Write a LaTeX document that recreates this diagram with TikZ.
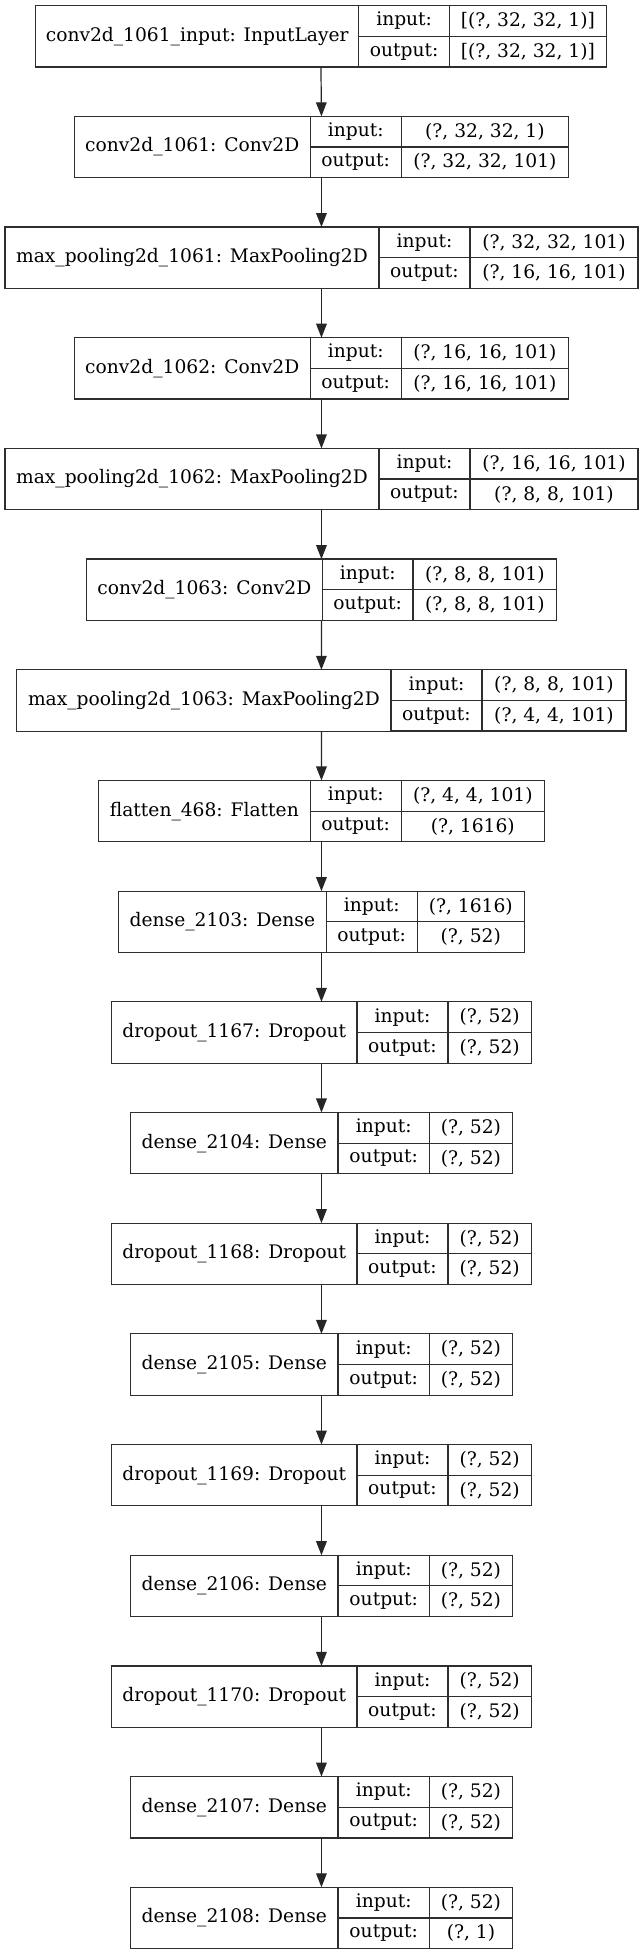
\documentclass[tikz,border=0pt]{standalone}
\usepackage{fontspec}
\setmainfont{DejaVu Serif}
\usetikzlibrary{arrows.meta}
\newcommand\nnlayer[9]{%
  \pgfmathsetmacro\ymid{#9+30.65}%
  \pgfmathsetmacro\yin{#9+15.325}%
  \pgfmathsetmacro\yout{#9+45.975}%
  \node[box, minimum width={(#8-#5)*0.75pt}, minimum height=46pt] (#1) at ({(#5+#8)/2},\ymid) {};
  \node[cell, minimum width={(#6-#5)*0.75pt}, minimum height=46pt] (#1-n) at ({(#5+#6)/2},\ymid) {#2};
  \node[cell, minimum width={(#7-#6)*0.75pt}, minimum height=23pt] (#1-il) at ({(#6+#7)/2},\yin) {input:};
  \node[cell, minimum width={(#8-#7)*0.75pt}, minimum height=23pt] (#1-iv) at ({(#7+#8)/2},\yin) {#3};
  \node[cell, minimum width={(#7-#6)*0.75pt}, minimum height=23pt] (#1-ol) at ({(#6+#7)/2},\yout) {output:};
  \node[cell, minimum width={(#8-#7)*0.75pt}, minimum height=23pt] (#1-ov) at ({(#7+#8)/2},\yout) {#4};
}
\begin{document}
\begin{tikzpicture}[x=0.75pt,y=-0.75pt,
  box/.style={draw=black!82, line width=0.9pt, inner sep=0pt, outer sep=0pt, rectangle},
  cell/.style={box, font=\fontsize{14}{16}\selectfont},
  arr/.style={draw=black!85, line width=0.9pt, -{Triangle[length=10.5pt,width=8pt]}}]
\useasboundingbox (0,0) rectangle (640,1955);
\nnlayer{L0}{conv2d\_1061\_input: InputLayer}{[(?, 32, 32, 1)]}{[(?, 32, 32, 1)]}{35.7}{358.8}{449.5}{606.2}{5.7}
\nnlayer{L1}{conv2d\_1061: Conv2D}{(?, 32, 32, 1)}{(?, 32, 32, 101)}{74.3}{310.2}{401.2}{568.6}{116.38}
\nnlayer{L2}{max\_pooling2d\_1061: MaxPooling2D}{(?, 32, 32, 101)}{(?, 16, 16, 101)}{4.9}{379}{470}{638}{227.06}
\nnlayer{L3}{conv2d\_1062: Conv2D}{(?, 16, 16, 101)}{(?, 16, 16, 101)}{74.3}{310.2}{401.2}{568.6}{337.74}
\nnlayer{L4}{max\_pooling2d\_1062: MaxPooling2D}{(?, 16, 16, 101)}{(?, 8, 8, 101)}{4.9}{379}{470}{638}{448.42}
\nnlayer{L5}{conv2d\_1063: Conv2D}{(?, 8, 8, 101)}{(?, 8, 8, 101)}{86.2}{322.5}{413}{556.7}{559.1}
\nnlayer{L6}{max\_pooling2d\_1063: MaxPooling2D}{(?, 8, 8, 101)}{(?, 4, 4, 101)}{16.8}{391}{482}{626}{669.78}
\nnlayer{L7}{flatten\_468: Flatten}{(?, 4, 4, 101)}{(?, 1616)}{98.5}{310.2}{401.2}{544.4}{780.46}
\nnlayer{L8}{dense\_2103: Dense}{(?, 1616)}{(?, 52)}{118.6}{326.2}{417.2}{524.3}{891.14}
\nnlayer{L9}{dropout\_1167: Dropout}{(?, 52)}{(?, 52)}{111.6}{357}{448}{531.3}{1001.82}
\nnlayer{L10}{dense\_2104: Dense}{(?, 52)}{(?, 52)}{130.5}{338}{429.5}{512.4}{1112.5}
\nnlayer{L11}{dropout\_1168: Dropout}{(?, 52)}{(?, 52)}{111.6}{357}{448}{531.3}{1223.18}
\nnlayer{L12}{dense\_2105: Dense}{(?, 52)}{(?, 52)}{130.5}{338}{429.5}{512.4}{1333.86}
\nnlayer{L13}{dropout\_1169: Dropout}{(?, 52)}{(?, 52)}{111.6}{357}{448}{531.3}{1444.54}
\nnlayer{L14}{dense\_2106: Dense}{(?, 52)}{(?, 52)}{130.5}{338}{429.5}{512.4}{1555.22}
\nnlayer{L15}{dropout\_1170: Dropout}{(?, 52)}{(?, 52)}{111.6}{357}{448}{531.3}{1665.9}
\nnlayer{L16}{dense\_2107: Dense}{(?, 52)}{(?, 52)}{130.5}{338}{429.5}{512.4}{1776.58}
\nnlayer{L17}{dense\_2108: Dense}{(?, 52)}{(?, 1)}{130.5}{338}{429.5}{512.4}{1887.26}
\foreach \a/\b in {L0/L1,L1/L2,L2/L3,L3/L4,L4/L5,L5/L6,L6/L7,L7/L8,L8/L9,L9/L10,L10/L11,L11/L12,L12/L13,L13/L14,L14/L15,L15/L16,L16/L17}
  \draw[arr] (\a.south) -- (\b.north);
\end{tikzpicture}
\end{document}
